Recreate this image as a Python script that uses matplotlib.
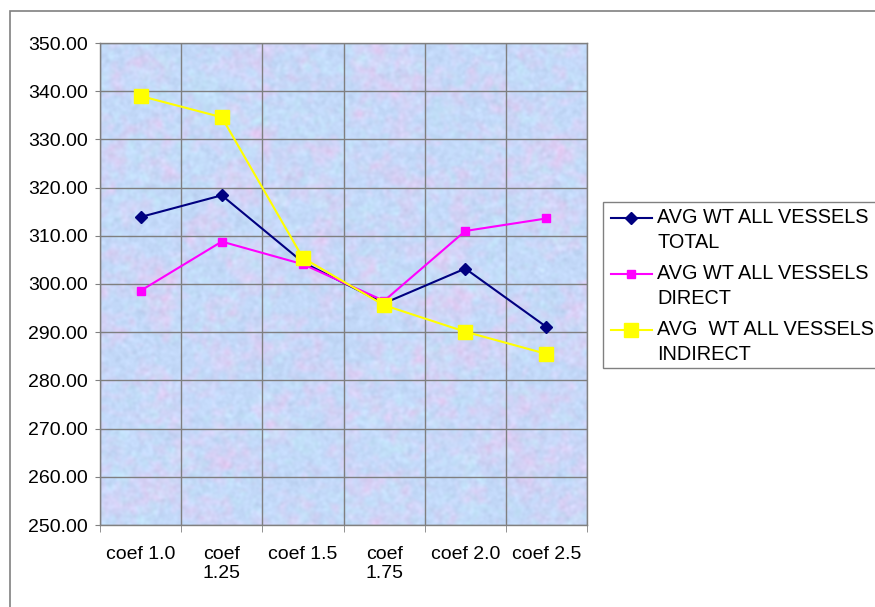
import matplotlib
matplotlib.use("Agg")
import matplotlib.pyplot as plt
from matplotlib.patches import Rectangle
from matplotlib.lines import Line2D
from matplotlib.ticker import FormatStrFormatter, FixedLocator
import numpy as np

plt.rcParams['font.family'] = ['Liberation Sans', 'DejaVu Sans']

categories = ["coef 1.0", "coef\n1.25", "coef 1.5", "coef\n1.75", "coef 2.0", "coef 2.5"]
avg_total = [313.9, 318.4, 304.5, 296.0, 303.2, 291.1]
avg_direct = [298.6, 308.8, 304.1, 296.5, 311.0, 313.6]
avg_indirect = [339.0, 334.6, 305.4, 295.6, 290.1, 285.5]

labels = ["AVG WT ALL VESSELS\nTOTAL",
          "AVG WT ALL VESSELS\nDIRECT",
          "AVG  WT ALL VESSELS\nINDIRECT"]

W, H = 875, 607


def px(x, y):
    # pixel position (from top-left) -> figure fraction
    return x / W, 1 - y / H


def mottled_background(h, w, seed=7):
    # fine blue / lavender / pink texture for the plot area
    rng = np.random.default_rng(seed)
    fy = np.fft.fftfreq(h)[:, None]
    fx = np.fft.fftfreq(w)[None, :]

    def smooth(sigma):
        noise = rng.standard_normal((h, w))
        kern = np.exp(-2 * (np.pi * sigma) ** 2 * (fx ** 2 + fy ** 2))
        out = np.real(np.fft.ifft2(np.fft.fft2(noise) * kern))
        return (out - out.min()) / (out.max() - out.min())

    pink = smooth(10) * 0.5 + smooth(3) * 0.5
    cyan = smooth(8) * 0.4 + smooth(2.5) * 0.6
    dark = smooth(1.5)
    base = np.array([196, 218, 250]) / 255.0
    pink_c = np.array([228, 204, 244]) / 255.0
    cyan_c = np.array([194, 238, 250]) / 255.0
    pw = np.clip((pink - 0.45) * 2.6, 0, 1)[..., None]
    cw = np.clip((cyan - 0.5) * 2.6, 0, 1)[..., None]
    img = base * (1 - pw) + pink_c * pw
    img = img * (1 - cw * 0.7) + cyan_c * cw * 0.7
    img = img + (dark[..., None] - 0.5) * 0.1
    return np.clip(img, 0, 1)


fig = plt.figure(figsize=(W / 100, H / 100), dpi=100)
ax = fig.add_axes([100 / W, 82 / H, 487 / W, 482 / H])

# outer chart border
fig.patches.append(Rectangle((10 / W, -0.05), 1.1, 1 - 11 / H + 0.05,
                             transform=fig.transFigure, fill=False,
                             edgecolor='#808080', linewidth=1.2))

x = np.arange(len(categories))
ax.imshow(mottled_background(482, 487), extent=(-0.5, 5.5, 250, 350),
          aspect='auto', zorder=0, interpolation='bilinear')

styles = [dict(color='#000080', marker='D', markersize=6),
          dict(color='#ff00ff', marker='s', markersize=6),
          dict(color='#ffff00', marker='s', markersize=10)]

for vals, st, z in zip([avg_total, avg_direct, avg_indirect], styles, [3, 3, 4]):
    ax.plot(x, vals, lw=1.5, zorder=z, **st)

ax.set_xlim(-0.5, 5.5)
ax.set_ylim(250, 350)
ax.set_yticks(np.arange(250, 351, 10))
ax.yaxis.set_major_formatter(FormatStrFormatter('%.2f'))
ax.set_xticks(x)
ax.set_xticklabels(categories, fontsize=14, va='top', linespacing=1.15)
ax.xaxis.set_minor_locator(FixedLocator(np.arange(-0.5, 6, 1)))
ax.tick_params(axis='x', which='major', length=0, pad=15)
ax.tick_params(axis='x', which='minor', length=5, color='#808080', direction='out')
ax.tick_params(axis='y', length=3.6, color='#808080', labelsize=14, pad=5)

ax.set_axisbelow(False)
ax.grid(True, which='minor', axis='x', color='#7f7f7f', lw=1)
ax.grid(True, which='major', axis='y', color='#7f7f7f', lw=1)
for s in ax.spines.values():
    s.set_color('#808080')
    s.set_linewidth(1)

# legend box drawn by hand so each handle sits on the first text line
x0, y0 = px(603, 368)
fig.patches.append(Rectangle((x0, y0), 1.0, 166 / H, transform=fig.transFigure,
                             facecolor='white', edgecolor='#808080', linewidth=1,
                             zorder=5))
entry_y = [218, 274, 330]
for lab, st, yy in zip(labels, styles, entry_y):
    line1, line2 = lab.split("\n")
    hx0, hy = px(611, yy)
    hx1, _ = px(652, yy)
    fig.add_artist(Line2D([hx0, hx1], [hy, hy], lw=1.5, transform=fig.transFigure,
                          color=st['color'], zorder=6))
    fig.add_artist(Line2D([px(631, yy)[0]], [hy], transform=fig.transFigure,
                          linestyle='none', zorder=6, **st))
    fig.text(*px(657, yy + 5), line1, fontsize=14.3, va='baseline', zorder=6)
    fig.text(*px(657, yy + 30), line2, fontsize=14.3, va='baseline', zorder=6)

fig.savefig('out.png', dpi=100)
